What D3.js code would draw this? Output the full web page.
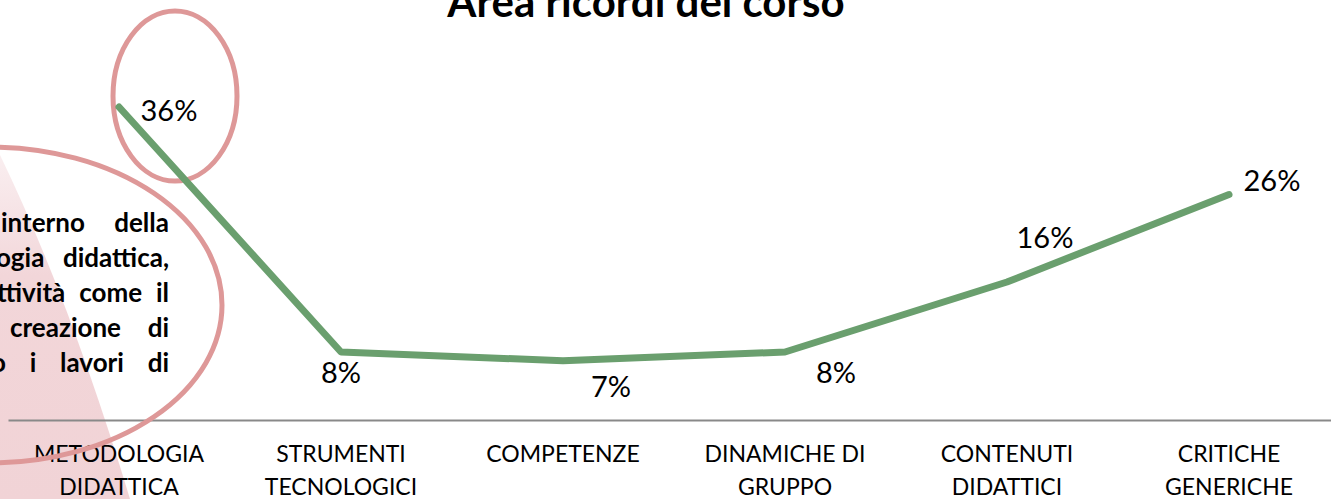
<!DOCTYPE html>
<html>
<head>
<meta charset="utf-8">
<script src="https://cdn.jsdelivr.net/npm/d3@7"></script>
<style>
  body { margin: 0; background: #fff; overflow: hidden; }
  svg { display: block; font-family: Lato, "Open Sans", sans-serif; }
</style>
</head>
<body>
<div id="chart"></div>
<script>
'use strict';

const width = 1331,
    height = 499;

// data
const title = "Area ricordi del corso";
const categories = ["METODOLOGIA DIDATTICA", "STRUMENTI TECNOLOGICI", "COMPETENZE",
    "DINAMICHE DI GRUPPO", "CONTENUTI DIDATTICI", "CRITICHE GENERICHE"];
const tickLabels = [["METODOLOGIA", "DIDATTICA"], ["STRUMENTI", "TECNOLOGICI"], ["COMPETENZE"],
    ["DINAMICHE DI", "GRUPPO"], ["CONTENUTI", "DIDATTICI"], ["CRITICHE", "GENERICHE"]];
const values = [0.36, 0.08, 0.07, 0.08, 0.16, 0.26];

// clipped text box on the left of the slide
const noteLines = [
    ["interno", "della"],
    ["ogia", "didattica,"],
    ["ttività", "come", "il"],
    ["creazione", "di"],
    ["o", "i", "lavori", "di"]
];
const noteLeft = [1, -4, -3, 10, -9];

// label placement (dx, dy from the point), as hand-moved in the original
const labelOffset = [[50, 14], [0, 31], [48, 36], [51, 31], [38, -34], [43, -4]];

const green = "#6a9f6e",
    pink = "#de9898";

const svg = d3.select("#chart")
    .append("svg")
    .attr("width", width)
    .attr("height", height);

const defs = svg.append("defs");
const grad = defs.append("linearGradient")
    .attr("id", "bgfade")
    .attr("x1", 0).attr("y1", 0).attr("x2", 0).attr("y2", 1);
grad.append("stop").attr("offset", "0%").attr("stop-color", "#f4dde0").attr("stop-opacity", 0.5);
grad.append("stop").attr("offset", "35%").attr("stop-color", "#f2d6d9").attr("stop-opacity", 1);
grad.append("stop").attr("offset", "100%").attr("stop-color", "#f1d3d6").attr("stop-opacity", 1);

// slide decoration
const bg = d3.path();
bg.moveTo(0, 155);
bg.quadraticCurveTo(70, 300, 130, 499);
bg.lineTo(0, 499);
bg.closePath();
svg.append("path")
    .attr("d", bg.toString())
    .attr("fill", "url(#bgfade)");

const xScale = d3.scaleBand()
    .domain(categories)
    .range([8, 1340]);
const yScale = d3.scaleLinear()
    .domain([0, 0.4])
    .range([422, 72]);
const cx = d => xScale(d) + xScale.bandwidth() / 2;

// title
svg.append("text")
    .attr("x", 646)
    .attr("y", 17)
    .attr("text-anchor", "middle")
    .attr("font-weight", "bold")
    .attr("font-size", 42)
    .attr("fill", "#000")
    .text(title);

// note text, justified to a right edge
const noteG = svg.append("g")
    .attr("font-weight", "bold")
    .attr("font-size", 26)
    .attr("fill", "#000");
noteLines.forEach((words, i) => {
    const y = 232 + i * 35;
    const nodes = words.map(w => noteG.append("text").attr("y", y).text(w));
    const widths = nodes.map(n => n.node().getComputedTextLength());
    const gap = (169 - noteLeft[i] - d3.sum(widths)) / (words.length - 1);
    let x = noteLeft[i];
    nodes.forEach((n, j) => {
        n.attr("x", x);
        x += widths[j] + gap;
    });
});

// x axis
const xAxis = d3.axisBottom(xScale).tickSize(0).tickSizeOuter(0).tickFormat("");
const axisG = svg.append("g")
    .attr("class", "axis x-axis")
    .attr("transform", "translate(0,420)")
    .call(xAxis);
axisG.select(".domain")
    .attr("stroke", "#898989")
    .attr("stroke-width", 2);
axisG.selectAll(".tick text")
    .attr("y", 0)
    .attr("dy", 0)
    .attr("font-size", 23)
    .attr("font-family", "Lato, sans-serif")
    .attr("fill", "#000")
    .each(function(d, i) {
        d3.select(this).selectAll("tspan")
            .data(tickLabels[i])
            .join("tspan")
            .attr("x", 0)
            .attr("y", (t, k) => 42 + k * 33)
            .text(t => t);
    });

// small highlight ellipse
svg.append("ellipse")
    .attr("cx", 175).attr("cy", 96)
    .attr("rx", 62).attr("ry", 85)
    .attr("fill", "none")
    .attr("stroke", pink)
    .attr("stroke-width", 5);

// the series
const line = d3.line()
    .x((d, i) => cx(categories[i]))
    .y(d => yScale(d));
svg.append("path")
    .datum(values)
    .attr("d", line)
    .attr("fill", "none")
    .attr("stroke", green)
    .attr("stroke-width", 7)
    .attr("stroke-linejoin", "round")
    .attr("stroke-linecap", "round");

svg.selectAll(".label")
    .data(values)
    .join("text")
    .attr("class", "label")
    .attr("x", (d, i) => cx(categories[i]) + labelOffset[i][0])
    .attr("y", (d, i) => yScale(d) + labelOffset[i][1])
    .attr("text-anchor", "middle")
    .attr("font-size", 29)
    .attr("fill", "#000")
    .text(d => d3.format(".0%")(d));

// big highlight ellipse, over the text
svg.append("ellipse")
    .attr("cx", -10).attr("cy", 305)
    .attr("rx", 232).attr("ry", 158)
    .attr("fill", "none")
    .attr("stroke", pink)
    .attr("stroke-width", 5);
</script>
</body>
</html>
